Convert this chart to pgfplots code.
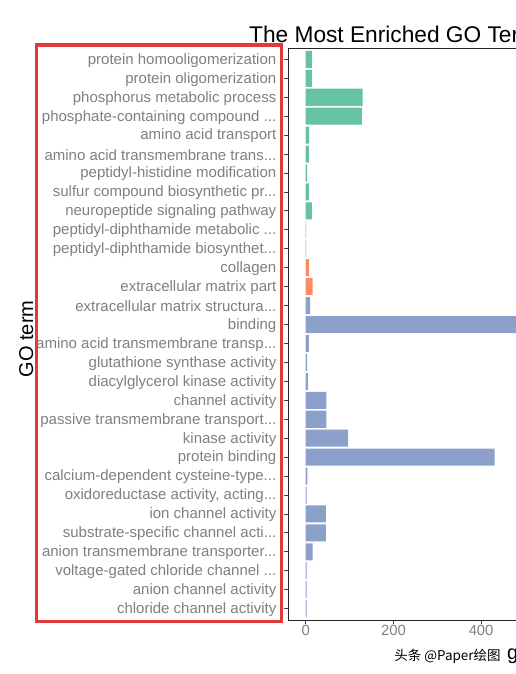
\documentclass[border=0pt]{standalone}
\usepackage{pgfplots}
\pgfplotsset{compat=1.18}
\usepackage{fontspec}
\setmainfont{Liberation Sans}
\newfontfamily\cjk{Noto Sans CJK SC}
\definecolor{bpc}{HTML}{66C2A5}
\definecolor{ccc}{HTML}{FC8D62}
\definecolor{mfc}{HTML}{8DA0CB}
\definecolor{redbox}{HTML}{E23A3A}
\definecolor{ticklab}{HTML}{7F7F7F}
\newcommand{\td}{...}
\begin{document}
\begin{tikzpicture}[x=1pt,y=1pt]
\useasboundingbox (0,0) rectangle (516,674);
\clip (0,0) rectangle (516,674);
\begin{axis}[
  at={(288pt,54pt)}, anchor=south west,
  scale only axis, width=394.8pt, height=572pt,
  xmin=-40.4, xmax=860, ymin=0.4, ymax=30.6,
  xbar, bar width=0.9, bar shift=0pt,
  axis line style={black!85, line width=0.8pt},
  tick align=outside, tick pos=left,
  major tick length=4.5pt,
  tick style={black!75, line width=0.8pt},
  xtick={0,200,400,600,800},
  ytick={1,2,3,4,5,6,7,8,9,10,11,12,13,14,15,16,17,18,19,20,21,22,23,24,25,26,27,28,29,30},
  yticklabels={{chloride channel activity}, {anion channel activity}, {voltage-gated chloride channel \td}, {anion transmembrane transporter\td}, {substrate-specific channel acti\td}, {ion channel activity}, {oxidoreductase activity, acting\td}, {calcium-dependent cysteine-type\td}, {protein binding}, {kinase activity}, {passive transmembrane transport\td}, {channel activity}, {diacylglycerol kinase activity}, {glutathione synthase activity}, {amino acid transmembrane transp\td}, {binding}, {extracellular matrix structura\td}, {extracellular matrix part}, {collagen}, {peptidyl-diphthamide biosynthet\td}, {peptidyl-diphthamide metabolic \td}, {neuropeptide signaling pathway}, {sulfur compound biosynthetic pr\td}, {peptidyl-histidine modification}, {amino acid transmembrane trans\td}, {amino acid transport}, {phosphate-containing compound \td}, {phosphorus metabolic process}, {protein oligomerization}, {protein homooligomerization}},
  /pgf/number format/assume math mode=true,
  yticklabel style={font=\fontsize{15}{17}\selectfont, text=ticklab, anchor=east, inner sep=0pt, xshift=-7pt, yshift=-1pt},
  xticklabel style={font=\fontsize{14.8}{17}\selectfont, text=ticklab, anchor=north, inner sep=0pt},
]
\addplot[fill=bpc, draw=none] coordinates {
(14,30) (14,29) (130,28) (128,27) (8,26) (7,25) (3,24) (7,23) (14,22) (1,21) (1,20)};
\addplot[fill=ccc, draw=none] coordinates {
(8,19) (16,18)};
\addplot[fill=mfc, draw=none] coordinates {
(10,17) (820,16) (7,15) (3,14) (5,13) (47,12) (47,11) (97,10) (431,9) (4,8) (2,7) (46,6) (46,5) (16,4) (2,3) (2,2) (2,1)};
\end{axis}
\node[anchor=base west, font=\fontsize{22.7}{27}\selectfont, inner sep=0pt] at (249,631.3) {The Most Enriched GO Terms};
\node[anchor=base, rotate=90, font=\fontsize{20}{24}\selectfont, inner sep=0pt] at (33,335) {GO term};
\node[anchor=base, font=\fontsize{20}{24}\selectfont, inner sep=0pt] at (485,14) {Number of genes};
\node[fill=white, inner xsep=1pt, inner ysep=6pt, font=\cjk\fontsize{13.5}{16}\selectfont] at (447.5,17.5) {头条 @Paper绘图};
\draw[redbox, line width=3.4pt] (36.2,629) rectangle (281.5,52.7);
\end{tikzpicture}
\end{document}
